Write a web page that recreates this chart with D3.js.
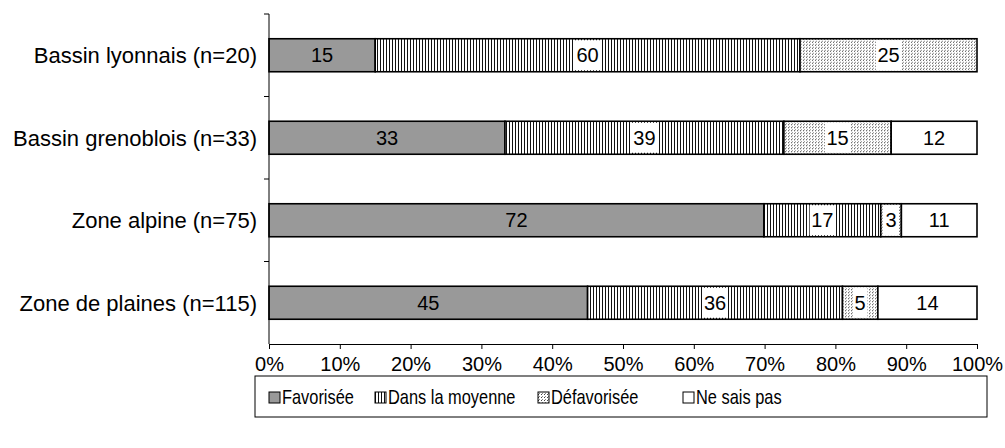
<!DOCTYPE html>
<html>
<head>
<meta charset="utf-8">
<script src="https://cdn.jsdelivr.net/npm/d3@7"></script>
<style>
  body { margin: 0; background: #fff; }
  text { font-family: "Liberation Sans", Arial, sans-serif; }
</style>
</head>
<body>
<div id="chart"></div>
<script>
const categories = ['Bassin lyonnais (n=20)', 'Bassin grenoblois (n=33)', 'Zone alpine (n=75)', 'Zone de plaines (n=115)'];
const seriesNames = ['Favorisée', 'Dans la moyenne', 'Défavorisée', 'Ne sais pas'];
const favorisee = [15, 33, 72, 45];
const moyenne = [60, 39, 17, 36];
const defavorisee = [25, 15, 3, 5];
const neSaisPas = [0, 12, 11, 14];
const xTicks = [0, 0.1, 0.2, 0.3, 0.4, 0.5, 0.6, 0.7, 0.8, 0.9, 1];

const [svgWidth, svgHeight] = [1005, 448];
const margin = { left: 269, right: 28, top: 14, bottom: 104 };
const width = svgWidth - margin.left - margin.right;
const height = svgHeight - margin.top - margin.bottom;
const fontSize = 20;

function translate(x, y) { return 'translate(' + x + ',' + y + ')'; }

const svg = d3.select('#chart').append('svg')
    .attr('width', svgWidth)
    .attr('height', svgHeight);

// fill patterns
const defs = svg.append('defs');
const pVert = defs.append('pattern').attr('id', 'vert')
    .attr('patternUnits', 'userSpaceOnUse').attr('width', 3).attr('height', 4);
pVert.append('rect').attr('width', 3).attr('height', 4).attr('fill', '#fff');
pVert.append('rect').attr('width', 1).attr('height', 4).attr('fill', '#111');

const pDots = defs.append('pattern').attr('id', 'dots')
    .attr('patternUnits', 'userSpaceOnUse').attr('width', 3).attr('height', 3);
pDots.append('rect').attr('width', 3).attr('height', 3).attr('fill', '#fff');
pDots.append('rect').attr('x', 0).attr('y', 0).attr('width', 1).attr('height', 1).attr('fill', '#444');
pDots.append('rect').attr('x', 1).attr('y', 2).attr('width', 1).attr('height', 1).attr('fill', '#888');

const fills = ['#999999', 'url(#vert)', 'url(#dots)', '#ffffff'];

const rows = categories.map((c, i) => {
    const vals = [favorisee[i], moyenne[i], defavorisee[i], neSaisPas[i]];
    const total = d3.sum(vals);
    let acc = 0;
    const segs = vals.map((v, k) => {
        const s = { k, v, x0: acc / total, x1: (acc + v) / total };
        acc += v;
        return s;
    });
    return { c, segs };
});

const xScale = d3.scaleLinear().domain([0, 1]).range([0, width]);
const yScale = d3.scaleBand().domain(categories).range([0, height]).paddingInner(0.6).paddingOuter(0.3);

const chart = svg.append('g').attr('transform', translate(margin.left, margin.top));

const rowG = chart.selectAll('.row').data(rows).enter().append('g')
    .attr('class', 'row')
    .attr('transform', d => translate(0, yScale(d.c)));

rowG.selectAll('rect').data(d => d.segs.filter(s => s.v > 0)).enter().append('rect')
    .attr('x', s => xScale(s.x0))
    .attr('width', s => xScale(s.x1) - xScale(s.x0))
    .attr('height', yScale.bandwidth())
    .attr('fill', s => fills[s.k])
    .attr('stroke', '#000')
    .attr('stroke-width', 1.6);

// value labels
const lbl = rowG.selectAll('.lbl').data(d => d.segs.filter(s => s.v > 0)).enter().append('g')
    .attr('class', 'lbl')
    .attr('transform', s => translate((xScale(s.x0) + xScale(s.x1)) / 2, yScale.bandwidth() / 2));
lbl.filter(s => s.k === 1 || s.k === 2).append('rect')
    .attr('x', s => -(String(s.v).length * 5.6) - 1.5)
    .attr('width', s => String(s.v).length * 11.2 + 3)
    .attr('y', -yScale.bandwidth() / 2 + 1.5)
    .attr('height', yScale.bandwidth() - 3)
    .attr('fill', '#fff');
lbl.append('text')
    .attr('text-anchor', 'middle')
    .attr('dy', '0.36em')
    .attr('font-size', fontSize)
    .text(s => s.v);

// y axis with ticks between categories
const yAxisG = chart.append('g').attr('class', 'yAxis');
yAxisG.append('line').attr('x1', 0).attr('x2', 0).attr('y1', 0).attr('y2', height)
    .attr('stroke', '#000').attr('stroke-width', 1);
yAxisG.selectAll('.tk').data(d3.range(categories.length)).enter().append('line')
    .attr('x1', -5).attr('x2', 0)
    .attr('y1', i => i * height / categories.length)
    .attr('y2', i => i * height / categories.length)
    .attr('stroke', '#000');
yAxisG.selectAll('.cat').data(categories).enter().append('text')
    .attr('x', -12)
    .attr('y', c => yScale(c) + yScale.bandwidth() / 2)
    .attr('dy', '0.36em')
    .attr('text-anchor', 'end')
    .attr('font-size', 22)
    .text(c => c);

// x axis
const xAxis = d3.axisBottom(xScale).tickValues(xTicks).tickFormat(d3.format('.0%')).tickSize(5).tickSizeOuter(0);
const xAxisG = chart.append('g').attr('transform', translate(0, height)).call(xAxis);
xAxisG.select('.domain').attr('stroke', '#000');
xAxisG.selectAll('.tick text').attr('font-size', fontSize).attr('dy', '0.95em').attr('fill', '#000')
    .style('font-family', '"Liberation Sans", Arial, sans-serif');
xAxisG.selectAll('.tick line').attr('stroke', '#000');

// legend (text drawn horizontally condensed as in the source)
const legend = svg.append('g').attr('transform', translate(255, 376));
legend.append('rect').attr('width', 732).attr('height', 41)
    .attr('fill', '#fff').attr('stroke', '#000').attr('stroke-width', 1);
const legendX = [14, 120, 283, 428];
const item = legend.selectAll('.item').data(seriesNames).enter().append('g')
    .attr('transform', (d, i) => translate(legendX[i], 21));
item.append('rect').attr('x', 0).attr('y', -5).attr('width', 11).attr('height', 11)
    .attr('fill', (d, i) => fills[i]).attr('stroke', '#000').attr('stroke-width', 1);
item.append('text').attr('transform', 'translate(13,0) scale(0.82,1)')
    .attr('dy', '0.36em').attr('font-size', fontSize).text(d => d);
</script>
</body>
</html>
